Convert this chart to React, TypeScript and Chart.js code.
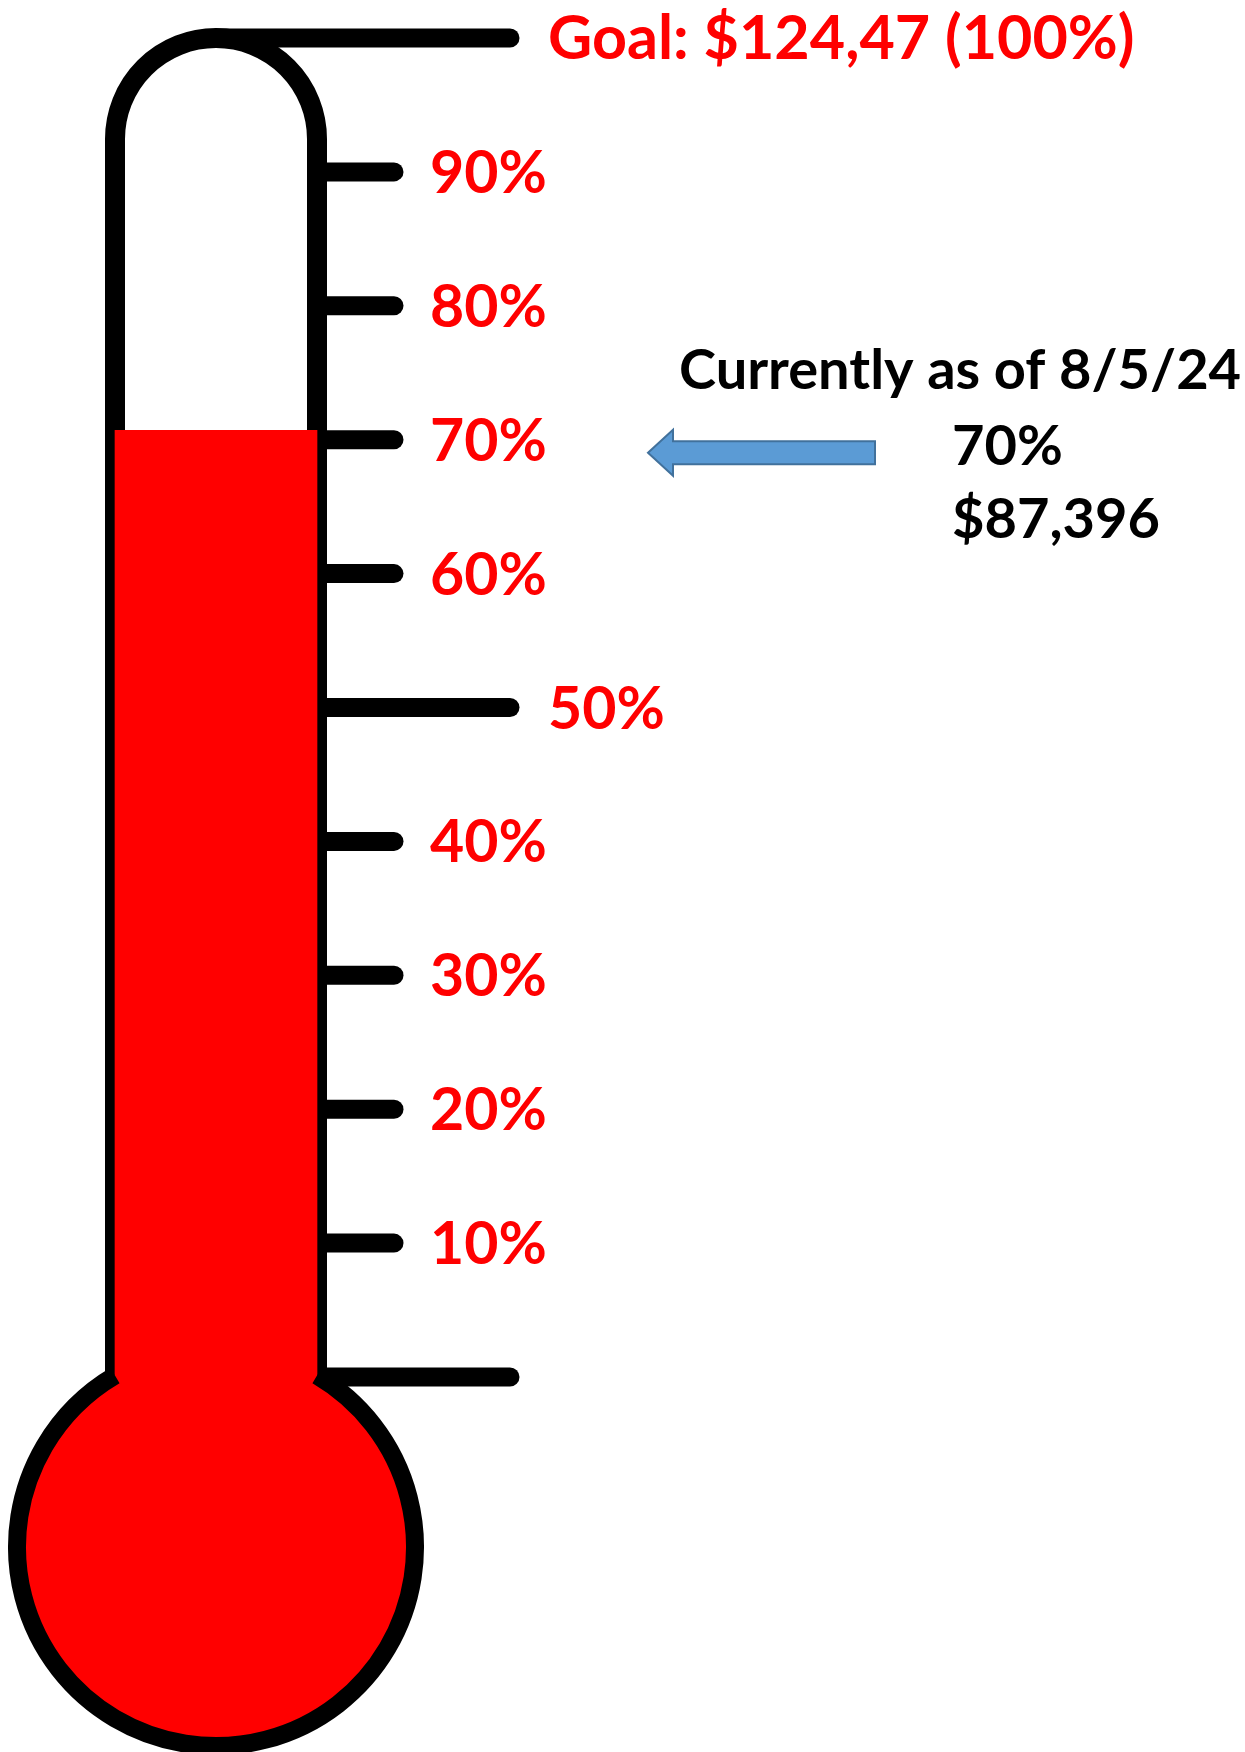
import React, { useEffect, useRef } from 'react';
import { Chart, registerables } from 'chart.js';

Chart.register(...registerables);

// ---- data ----
const categories = ['Raised'];
const fillLevel = [70.7]; // red column height (% of goal)
const tickValues = [0, 10, 20, 30, 40, 50, 60, 70, 80, 90, 100];
const tickLabels = ['', '10%', '20%', '30%', '40%', '50%', '60%', '70%', '80%', '90%', 'Goal: $124,47 (100%)'];
const longTickValues = [0, 50, 100];
const statusLines = ['Currently as of 8/5/24', '70%', '$87,396'];
const statusPercent = [70];

const W = 1245;
const H = 1752;

export default function App() {
  const ref = useRef<HTMLCanvasElement>(null);

  useEffect(() => {
    const canvas = ref.current;
    if (!canvas) return;

    const geom = (chart: any) => {
      const y = chart.scales.y;
      const bar = chart.getDatasetMeta(0).data[0] as any;
      const cx = bar.x;
      const half = bar.width / 2;
      const y0 = y.getPixelForValue(0);
      const yTop = y.getPixelForValue(100);
      const bulbCy = y0 + 170;
      const bulbR = 199;
      const dy = Math.sqrt(bulbR * bulbR - half * half);
      return { y, cx, half, y0, yTop, bulbCy, bulbR, dy, joinY: bulbCy - dy };
    };

    const thermo = {
      id: 'thermo',
      beforeDatasetsDraw(chart: any) {
        const ctx = chart.ctx as CanvasRenderingContext2D;
        const g = geom(chart);
        ctx.save();
        ctx.fillStyle = '#ffffff';
        ctx.fillRect(0, 0, chart.width, chart.height);
        // tube outline
        ctx.strokeStyle = '#000000';
        ctx.lineWidth = 20;
        ctx.lineJoin = 'round';
        ctx.lineCap = 'butt';
        ctx.beginPath();
        ctx.moveTo(g.cx - g.half, g.joinY);
        ctx.lineTo(g.cx - g.half, g.yTop + g.half);
        ctx.arc(g.cx, g.yTop + g.half, g.half, Math.PI, 0);
        ctx.lineTo(g.cx + g.half, g.joinY);
        ctx.stroke();
        // ticks
        ctx.lineWidth = 19;
        ctx.lineCap = 'round';
        tickValues.forEach((v) => {
          const ty = g.y.getPixelForValue(v);
          const long = longTickValues.includes(v);
          const x1 = v === 100 ? g.cx : g.cx + g.half;
          const x2 = g.cx + g.half + (long ? 193 : 77);
          ctx.beginPath();
          ctx.moveTo(x1, ty);
          ctx.lineTo(x2, ty);
          ctx.stroke();
        });
        ctx.restore();
      },
      afterDatasetsDraw(chart: any) {
        const ctx = chart.ctx as CanvasRenderingContext2D;
        const g = geom(chart);
        ctx.save();
        // bulb
        ctx.fillStyle = '#FF0000';
        ctx.beginPath();
        ctx.arc(g.cx, g.bulbCy, g.bulbR, 0, Math.PI * 2);
        ctx.fill();
        const a1 = Math.atan2(-g.dy, g.half);
        ctx.strokeStyle = '#000000';
        ctx.lineWidth = 18;
        ctx.lineCap = 'butt';
        ctx.beginPath();
        ctx.arc(g.cx, g.bulbCy, g.bulbR, a1, Math.PI - a1);
        ctx.stroke();

        // tick labels
        ctx.fillStyle = '#FF0000';
        ctx.textBaseline = 'alphabetic';
        ctx.textAlign = 'left';
        tickValues.forEach((v, i) => {
          const label = tickLabels[i];
          if (!label) return;
          const ty = g.y.getPixelForValue(v);
          const long = longTickValues.includes(v);
          const x = g.cx + g.half + (long ? 231 : 113);
          ctx.font = v === 100 ? 'bold 61px Lato' : 'bold 59px Lato';
          ctx.fillText(label, x, ty + 21);
        });

        // arrow
        const ay = g.y.getPixelForValue(statusPercent[0]) + 13;
        const tipX = 648;
        const headX = 673;
        const endX = 875;
        ctx.fillStyle = '#5B9BD5';
        ctx.strokeStyle = '#41719C';
        ctx.lineWidth = 2;
        ctx.lineJoin = 'miter';
        ctx.beginPath();
        ctx.moveTo(tipX, ay);
        ctx.lineTo(headX, ay - 23);
        ctx.lineTo(headX, ay - 11.5);
        ctx.lineTo(endX, ay - 11.5);
        ctx.lineTo(endX, ay + 11.5);
        ctx.lineTo(headX, ay + 11.5);
        ctx.lineTo(headX, ay + 23);
        ctx.closePath();
        ctx.fill();
        ctx.stroke();

        // status text
        ctx.fillStyle = '#000000';
        ctx.font = 'bold 56px Lato';
        ctx.fillText(statusLines[0], 679, ay - 64);
        ctx.fillText(statusLines[1], 952, ay + 12);
        ctx.fillText(statusLines[2], 952, ay + 85);
        ctx.restore();
      },
    };

    const chart = new Chart(canvas, {
      type: 'bar',
      data: {
        labels: categories,
        datasets: [
          {
            data: fillLevel,
            backgroundColor: '#FF0000',
            borderWidth: 0,
            barThickness: 202,
          },
        ],
      },
      options: {
        animation: false,
        responsive: false,
        devicePixelRatio: 1,
        layout: { padding: { left: 0, right: W - 432, top: 38, bottom: H - 1377 } },
        scales: {
          x: { display: false, grid: { display: false } },
          y: { display: false, min: 0, max: 100, grid: { display: false } },
        },
        plugins: {
          legend: { display: false },
          tooltip: { enabled: false },
          title: { display: false },
        },
        events: [],
      },
      plugins: [thermo],
    });
    return () => chart.destroy();
  }, []);

  return (
    <div style={{ position: 'absolute', left: 0, top: 0, width: W, height: H, background: '#fff' }}>
      <canvas ref={ref} width={W} height={H} style={{ display: 'block', width: W, height: H }} />
    </div>
  );
}
